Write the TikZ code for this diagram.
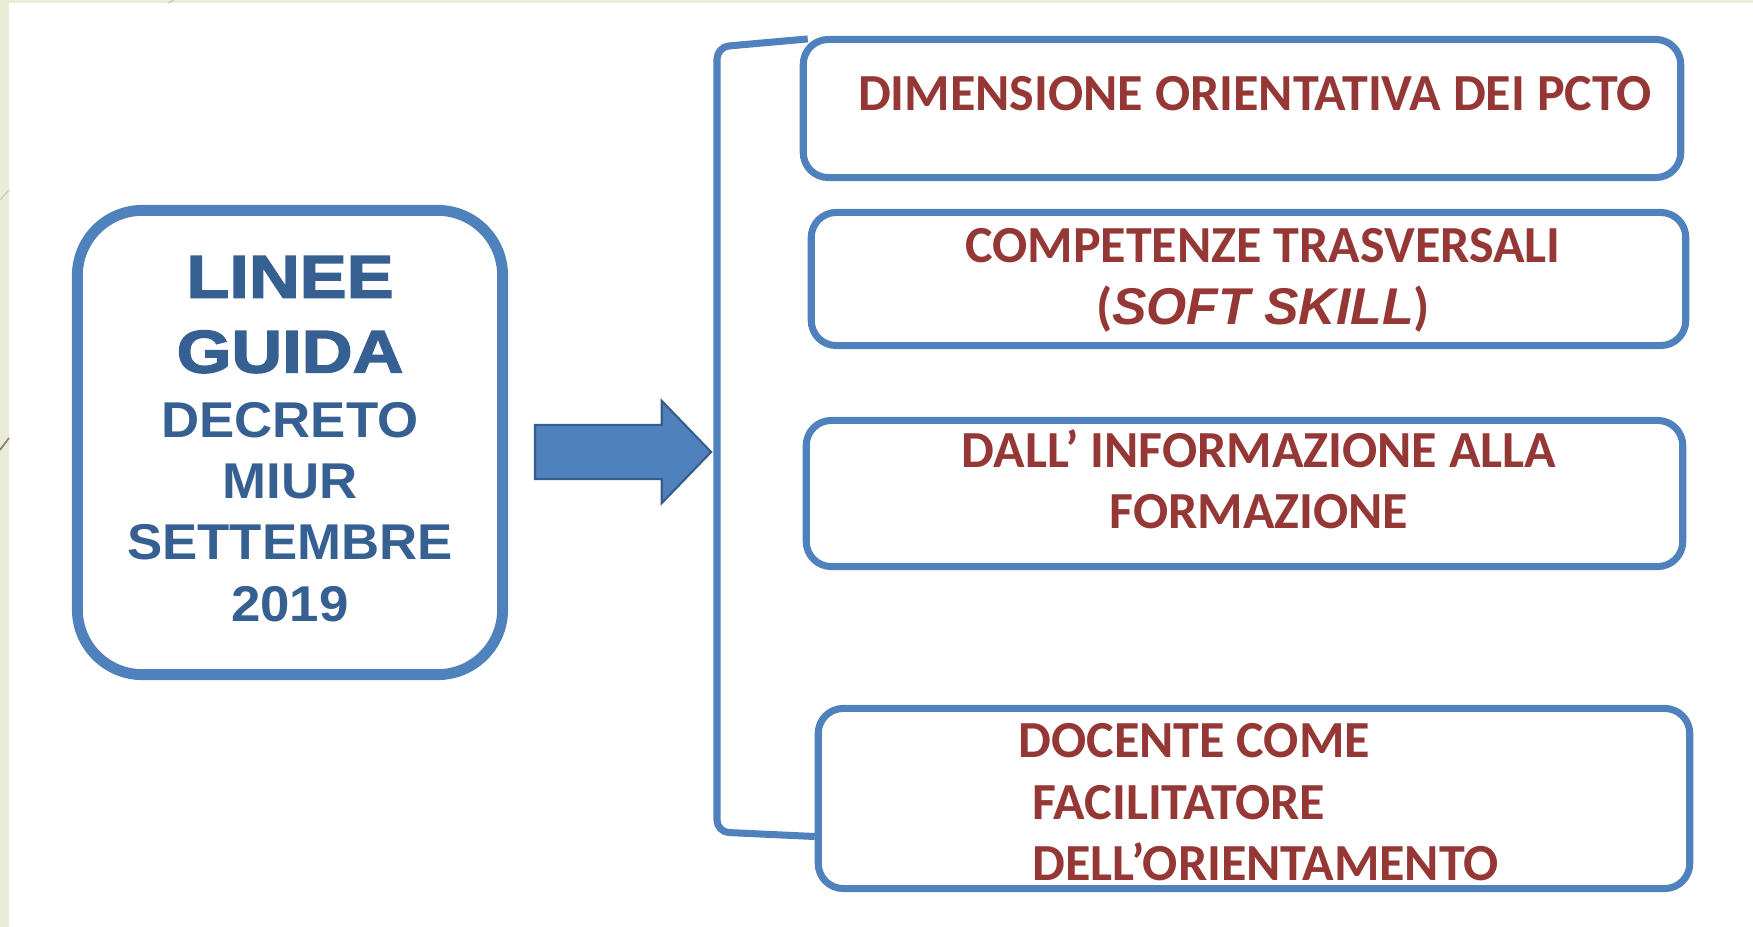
\documentclass[tikz,border=0pt]{standalone}
\usepackage{fontspec}
\setmainfont{Carlito}
\newfontfamily\titfont[FakeStretch=1.17,FakeBold=2.5]{Liberation Sans Bold}
\newfontfamily\decfont[FakeStretch=1.05]{Liberation Sans Bold}
\newfontfamily\softfont{Liberation Sans Bold Italic}
\usepackage{xcolor}
\definecolor{mblue}{RGB}{79,129,189}
\definecolor{mdark}{RGB}{55,96,146}
\definecolor{mline}{RGB}{56,93,138}
\definecolor{mred}{RGB}{149,55,53}
\definecolor{mgreen}{RGB}{233,237,215}
\usetikzlibrary{shapes.arrows,calc}
\tikzset{
  mainbox/.style={draw=mblue, line width=3.1pt, rounded corners=0.65cm, fill=white, inner sep=0pt},
  topic/.style={draw=mblue, line width=2pt, rounded corners=0.25cm, inner sep=0pt},
  topictxt/.style={font=\bfseries\fontsize{14.8}{17.4}\selectfont, text=mred, inner sep=0pt, align=center},
  brk/.style={draw=mblue, line width=2pt, rounded corners=0.12cm},
  bigarrow/.style={single arrow, draw=mline, fill=mblue, line width=0.6pt, inner xsep=0pt, inner ysep=0.26cm,
    single arrow head extend=0.24cm, single arrow tip angle=92, minimum height=1.76cm}
}

\begin{document}
\begin{tikzpicture}[x=0.01cm, y=-0.01cm]
  \useasboundingbox (0,0) rectangle (1753,927);
  % slide background
  \fill[mgreen] (0,0) rectangle (1753,927);
  \fill[white] (9,3) rectangle (1753,927);
  \draw[gray!40, line width=0.4pt] (168,3) -- (174,0);
  \draw[gray!40, line width=0.4pt] (0,200) -- (9,190);
  \draw[gray!70!brown, line width=0.5pt] (0,450) -- (9,438);

  % left block
  \node[mainbox, minimum width=4.25cm, minimum height=4.64cm] (lg) at (290,442.5) {};
  \node[font=\decfont\fontsize{14.3}{17.4}\selectfont, text=mdark, align=center, inner sep=0pt, anchor=north] (lt) at (290,255.5)
    {{\titfont\fontsize{17.1}{20}\selectfont LINEE}\\[3.9pt]{\titfont\fontsize{17.1}{20}\selectfont GUIDA}\\[1.1pt]DECRETO\\MIUR\\SETTEMBRE\\2019};

  \node[bigarrow] (ar) at (610,452) {};

  % right boxes
  \node[topic, minimum width=8.77cm, minimum height=1.38cm] (b1) at (1242,108.5) {};
  \node[topic, minimum width=8.74cm, minimum height=1.33cm] (b2) at (1248.5,279) {};
  \node[topic, minimum width=8.76cm, minimum height=1.46cm] (b3) at (1244.5,493.5) {};
  \node[topic, minimum width=8.71cm, minimum height=1.80cm] (b4) at (1254,798.5) {};

  \node[topictxt] (t1) at (1255,94) {DIMENSIONE ORIENTATIVA DEI PCTO};
  \node[topictxt, anchor=north] (t2) at (1263,228) {COMPETENZE TRASVERSALI\\({\softfont\fontsize{14.7}{17.4}\selectfont SOFT SKILL})};
  \node[topictxt, anchor=north] (t3) at (1259,429) {DALL’ INFORMAZIONE ALLA\\FORMAZIONE};
  \node[topictxt, anchor=north west, align=left] (t4) at (1018,723)
    {DOCENTE COME\\\hspace*{0.14cm}FACILITATORE\\\hspace*{0.14cm}DELL’ORIENTAMENTO};

  % bracket
  \coordinate (bt) at (717,47);
  \coordinate (bb) at (717,832);
  \draw[brk] ($(b1.north west)+(8,3)$) -- (bt) -- (bb) -- ($(b4.west)+(0,38)$);
\end{tikzpicture}
\end{document}
